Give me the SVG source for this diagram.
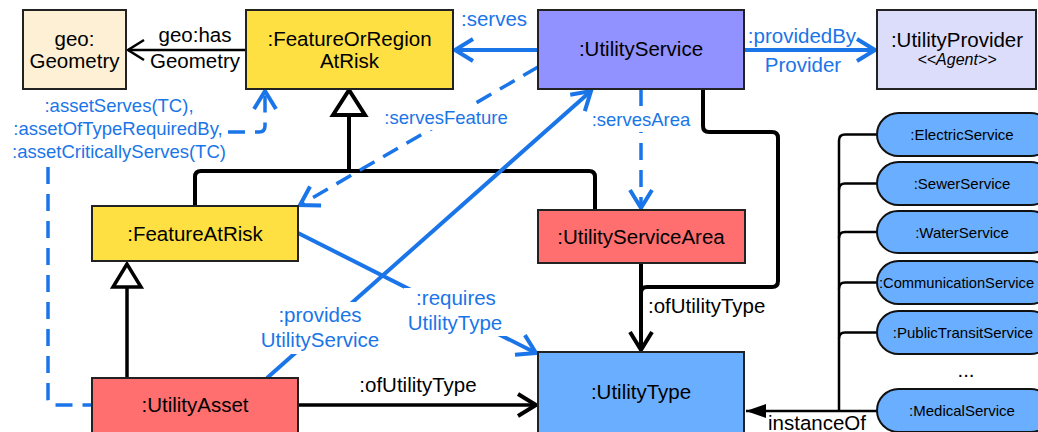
<svg xmlns="http://www.w3.org/2000/svg" width="1038" height="432" viewBox="0 0 1038 432">
<style>
text{font-family:"Liberation Sans",Arial,sans-serif;fill:#000;text-anchor:middle}
.n{font-size:20.5px}
.bl{fill:#1a75e8;font-size:20.5px}
.bs{fill:#1a75e8;font-size:18.5px}
.p{font-size:15px}
.box{stroke:#222;stroke-width:2}
.pill{fill:#6aaeff;stroke:#111;stroke-width:2}
.blue{fill:none;stroke:#1a75e8;stroke-width:4}
.dash{fill:none;stroke:#1a75e8;stroke-width:3.5;stroke-dasharray:17 10}
.blk{fill:none;stroke:#000;stroke-width:4}
.thin{fill:none;stroke:#000;stroke-width:2.5}
.wb{fill:#fff}
</style>
<defs>
<marker id="ab" markerUnits="userSpaceOnUse" viewBox="-24 -14 28 28" refX="0" refY="0" markerWidth="28" markerHeight="28" orient="auto"><path d="M-18,-11 L0,0 L-18,11" fill="none" stroke="#1a75e8" stroke-width="4"/></marker>
<marker id="ak" markerUnits="userSpaceOnUse" viewBox="-24 -14 28 28" refX="0" refY="0" markerWidth="28" markerHeight="28" orient="auto"><path d="M-18,-11 L0,0 L-18,11" fill="none" stroke="#000" stroke-width="4"/></marker>
<marker id="akt" markerUnits="userSpaceOnUse" viewBox="-24 -14 28 28" refX="0" refY="0" markerWidth="28" markerHeight="28" orient="auto"><path d="M-16,-10 L0,0 L-16,10" fill="none" stroke="#000" stroke-width="2.5"/></marker>
<marker id="af" markerUnits="userSpaceOnUse" viewBox="-22 -10 24 20" refX="0" refY="0" markerWidth="24" markerHeight="20" orient="auto"><path d="M-20,-7 L0,0 L-20,7 Z" fill="#000"/></marker>
</defs>

<g id="connectors">
  <!-- geo:hasGeometry -->
  <path class="thin" d="M246,50 H128" marker-end="url(#akt)"/>
  <!-- serves -->
  <path class="blue" d="M538,50 H455" marker-end="url(#ab)"/>
  <!-- providedByProvider -->
  <path class="blue" d="M744,50 H875" marker-end="url(#ab)"/>
  <!-- generalization to FeatureOrRegionAtRisk -->
  <path class="blk" d="M195,206 V177 Q195,171 201,171 H589 Q595,171 595,177 V210"/>
  <path class="blk" d="M349,171 V115"/>
  <path d="M349,90 L333,115 L365,115 Z" fill="#fff" stroke="#000" stroke-width="4" stroke-linejoin="miter"/>
  <!-- generalization to FeatureAtRisk -->
  <path class="blk" d="M127,378 V287" style="stroke-width:3.5"/>
  <path d="M127,264 L113,287 L141,287 Z" fill="#fff" stroke="#000" stroke-width="3.5"/>
  <!-- servesFeature -->
  <path class="dash" d="M538,67 L300,205" marker-end="url(#ab)"/>
  <!-- servesArea -->
  <path class="dash" d="M641,89 V208" marker-end="url(#ab)"/>
  <!-- asset serves dashed -->
  <path class="dash" d="M48,167 V399 Q48,405 54,405 H92"/>
  <path class="dash" d="M228,132 H259 Q265,132 265,126 V91" marker-end="url(#ab)"/>
  <!-- providesUtilityService -->
  <path class="blue" d="M267,378 L591,91" marker-end="url(#ab)"/>
  <!-- requiresUtilityType -->
  <path class="blue" d="M298,233 L536,353" marker-end="url(#ab)"/>
  <!-- ofUtilityType from asset -->
  <path class="blk" style="stroke-width:3.5" d="M298,405 H536" marker-end="url(#ak)"/>
  <!-- ofUtilityType from service & area -->
  <path class="blk" d="M703,89 V126 Q703,132 709,132 H772 Q778,132 778,138 V281 Q778,287 772,287 H647 Q641,287 641,293 V350" marker-end="url(#ak)"/>
  <path class="blk" d="M641,263 V293"/>
  <!-- instanceOf tree -->
  <path class="thin" d="M877,134.5 H845 Q839,134.5 839,140.5 V411"/>
  <path class="thin" d="M877,183.5 H845 Q839,183.5 839,189.5"/>
  <path class="thin" d="M877,232 H845 Q839,232 839,238"/>
  <path class="thin" d="M877,282.5 H845 Q839,282.5 839,288.5"/>
  <path class="thin" d="M877,332.5 H845 Q839,332.5 839,338.5"/>
  <path class="thin" d="M877,411 H746" marker-end="url(#af)"/>

  <!-- labels -->
  <text class="n" x="195" y="42">geo:has</text>
  <text class="n" x="195" y="68">Geometry</text>
  <text class="bl" x="494" y="26">:serves</text>
  <text class="bl" x="802" y="43">:providedBy</text>
  <text class="bl" x="803" y="72">Provider</text>
  <rect class="wb" x="381" y="106" width="130" height="24"/>
  <text class="bs" x="446" y="124">:servesFeature</text>
  <rect class="wb" x="590" y="106" width="104" height="26"/>
  <text class="bs" x="641" y="126">:servesArea</text>
  <text class="bs" x="119" y="112">:assetServes(TC),</text>
  <text class="bs" x="118" y="135">:assetOfTypeRequiredBy,</text>
  <text class="bs" x="119" y="158">:assetCriticallyServes(TC)</text>
  <rect class="wb" x="256" y="302" width="128" height="52"/>
  <text class="bl" x="320" y="322">:provides</text>
  <text class="bl" x="320" y="347">UtilityService</text>
  <rect class="wb" x="404" y="288" width="102" height="48"/>
  <text class="bl" x="456" y="305">:requires</text>
  <text class="bl" x="455" y="330">UtilityType</text>
  <text class="n" x="418" y="392">:ofUtilityType</text>
  <text class="n" x="648" y="313" style="text-anchor:start">:ofUtilityType</text>
  <text class="n" x="768" y="430" style="text-anchor:start">instanceOf</text>
</g>

<g id="geoGeometry">
  <rect class="box" x="23" y="10" width="103" height="79" fill="#fdf0d5"/>
  <text class="n" x="74.5" y="46">geo:</text>
  <text class="n" x="74.5" y="68">Geometry</text>
</g>
<g id="FeatureOrRegionAtRisk">
  <rect class="box" x="246" y="10" width="207" height="79" fill="#ffe042"/>
  <text class="n" x="349.5" y="46">:FeatureOrRegion</text>
  <text class="n" x="349.5" y="68">AtRisk</text>
</g>
<g id="UtilityService">
  <rect class="box" x="538" y="10" width="206" height="79" fill="#9191ff"/>
  <text class="n" x="641" y="56">:UtilityService</text>
</g>
<g id="UtilityProvider">
  <rect class="box" x="877" y="10" width="159" height="79" fill="#dcdcfb"/>
  <text class="n" x="957" y="47">:UtilityProvider</text>
  <text x="957" y="65" style="font-size:16px;font-style:italic">&lt;&lt;Agent&gt;&gt;</text>
</g>
<g id="FeatureAtRisk">
  <rect class="box" x="92" y="206" width="206" height="55" fill="#ffe042"/>
  <text class="n" x="195" y="241">:FeatureAtRisk</text>
</g>
<g id="UtilityServiceArea">
  <rect class="box" x="538" y="210" width="207" height="53" fill="#ff6f6f"/>
  <text class="n" x="641" y="244">:UtilityServiceArea</text>
</g>
<g id="UtilityAsset">
  <rect class="box" x="92" y="378" width="206" height="80" fill="#ff6f6f"/>
  <text class="n" x="195" y="412">:UtilityAsset</text>
</g>
<g id="UtilityType">
  <rect class="box" x="538" y="352" width="206" height="100" fill="#6aaeff"/>
  <text class="n" x="641" y="399">:UtilityType</text>
</g>
<g id="ElectricService">
  <rect class="pill" x="877" y="113" width="175" height="43" rx="21.5"/>
  <text class="p" x="962" y="140">:ElectricService</text>
</g>
<g id="SewerService">
  <rect class="pill" x="877" y="162" width="175" height="43" rx="21.5"/>
  <text class="p" x="962" y="189">:SewerService</text>
</g>
<g id="WaterService">
  <rect class="pill" x="877" y="211" width="175" height="42" rx="21"/>
  <text class="p" x="962" y="237.5">:WaterService</text>
</g>
<g id="CommunicationService">
  <rect class="pill" x="877" y="261" width="175" height="43" rx="21.5"/>
  <text class="p" x="879" y="288" style="text-anchor:start;font-size:14.7px">:CommunicationService</text>
</g>
<g id="PublicTransitService">
  <rect class="pill" x="877" y="311" width="175" height="43" rx="21.5"/>
  <text class="p" x="963" y="338">:PublicTransitService</text>
</g>
<text class="n" x="966" y="377">...</text>
<g id="MedicalService">
  <rect class="pill" x="877" y="389" width="175" height="43" rx="21.5"/>
  <text class="p" x="962" y="416">:MedicalService</text>
</g>
</svg>
